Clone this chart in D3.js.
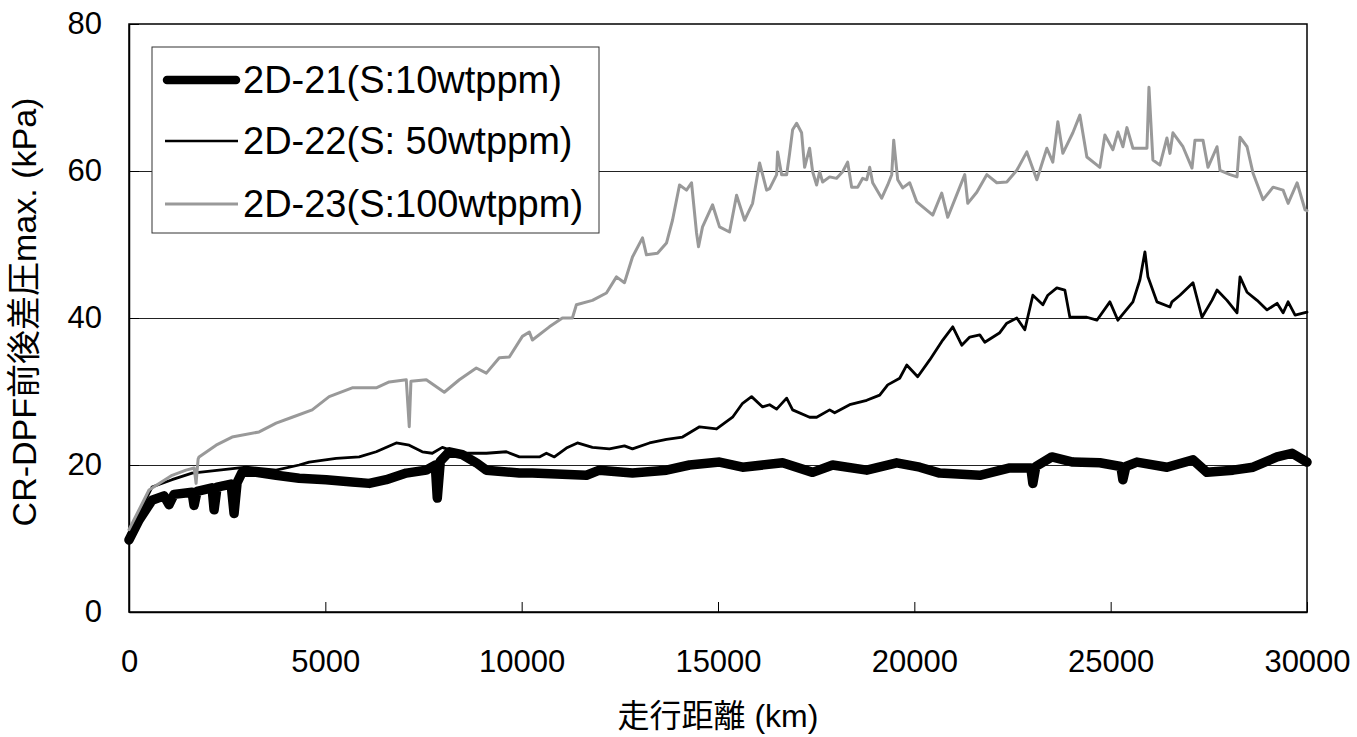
<!DOCTYPE html>
<html>
<head>
<meta charset="utf-8">
<script src="https://cdn.jsdelivr.net/npm/d3@7/dist/d3.min.js"></script>
<style>
  html, body { margin: 0; padding: 0; background: #fff; }
  svg { display: block; }
  text { font-family: "Liberation Sans", Arial, "Noto Sans CJK JP", sans-serif; fill: #000; }
</style>
</head>
<body>
<svg id="chart" width="1357" height="737"></svg>
<script>
// Running distance (km) and max. pressure drop across the CR-DPF (kPa)

const seriesNames = ["2D-21(S:10wtppm)", "2D-22(S: 50wtppm)", "2D-23(S:100wtppm)"];

// 2D-21 (S:10wtppm)
const dist21 = [0, 255, 586, 892, 1020, 1147, 1606, 1657, 1733, 2116, 2167, 2243, 2600, 2676, 2753, 2880,
  3237, 3747, 4333, 5021, 5684, 6118, 6551, 7061, 7571, 7800, 7851, 7928, 8157, 8488, 8845, 9100, 9941,
  10273, 11649, 11980, 12822, 13688, 14274, 15039, 15626, 16646, 17410, 17920, 18787, 19551, 20137, 20647,
  21667, 22431, 22967, 23018, 23094, 23502, 24037, 24725, 25260, 25311, 25388, 25669, 26433, 27096, 27452,
  28116, 28626, 29238, 29620, 30000];
const val21 = [9.8, 12.5, 15.2, 15.8, 14.6, 16.0, 16.3, 14.5, 16.4, 16.9, 13.9, 17.0, 17.4, 13.4, 17.6, 19.0,
  19.0, 18.6, 18.2, 18.0, 17.7, 17.5, 18.0, 18.9, 19.3, 20.0, 15.5, 20.5, 21.8, 21.4, 20.3, 19.3, 18.9,
  18.9, 18.6, 19.3, 18.9, 19.3, 20.0, 20.4, 19.7, 20.3, 19.0, 20.0, 19.3, 20.3, 19.7, 18.9,
  18.6, 19.6, 19.6, 17.5, 19.8, 21.1, 20.4, 20.3, 19.8, 18.0, 19.8, 20.4, 19.7, 20.7, 19.0,
  19.3, 19.7, 21.1, 21.6, 20.4];

// 2D-22 (S: 50wtppm)
const dist22 = [0, 586, 1096, 1606, 2294, 2982, 3747, 4333, 4588, 5276, 5863, 6296, 6806, 7137, 7469, 7724,
  7979, 8412, 9100, 9610, 9941, 10451, 10630, 10833, 11139, 11420, 11802, 12235, 12618, 12822, 13255, 13688,
  14096, 14530, 14963, 15371, 15626, 15855, 16136, 16314, 16493, 16748, 16900, 17333, 17512, 17843, 17971,
  18353, 18787, 19118, 19322, 19627, 19806, 20086, 20392, 20724, 20979, 21208, 21412, 21667, 21794, 22176,
  22355, 22610, 22814, 23018, 23273, 23400, 23629, 23833, 23961, 24394, 24649, 24980, 25184, 25567, 25745,
  25873, 25949, 26178, 26510, 26561, 26765, 27096, 27325, 27580, 27708, 27963, 28218, 28294, 28473, 28728,
  28983, 29238, 29391, 29519, 29697, 30000];
const val22 = [10.7, 17.0, 18.0, 18.9, 19.3, 19.7, 19.3, 20.0, 20.4, 20.9, 21.1, 21.8, 23.0, 22.7, 21.8, 21.6,
  22.4, 21.6, 21.6, 21.8, 21.1, 21.1, 21.6, 21.1, 22.3, 23.0, 22.4, 22.2, 22.6, 22.2, 23.0, 23.5,
  23.8, 25.2, 24.9, 26.5, 28.4, 29.3, 27.9, 28.2, 27.6, 29.1, 27.5, 26.5, 26.5, 27.5, 27.1,
  28.2, 28.8, 29.5, 30.9, 31.8, 33.6, 32.0, 34.3, 37.0, 38.8, 36.3, 37.4, 37.7, 36.7, 38.0,
  39.3, 40.0, 38.4, 43.1, 41.8, 43.1, 44.1, 43.8, 40.1, 40.1, 39.7, 42.2, 39.7, 42.2, 45.2,
  49.0, 45.6, 42.2, 41.5, 42.2, 43.1, 44.8, 40.1, 42.4, 43.8, 42.4, 40.7, 45.6, 43.5, 42.4,
  41.1, 42.0, 40.7, 42.2, 40.4, 40.8];

// 2D-23 (S:100wtppm)
const dist23 = [0, 510, 1096, 1453, 1660, 1708, 1760, 1784, 2218, 2625, 3314, 3747, 4155, 4665, 5098, 5684,
  6296, 6627, 7061, 7137, 7180, 7571, 8029, 8412, 8845, 9100, 9431, 9686, 10018, 10196, 10273, 10706,
  11037, 11292, 11394, 11802, 12159, 12414, 12618, 12822, 13077, 13178, 13459, 13688, 13841, 14020, 14198,
  14326, 14453, 14504, 14606, 14861, 15039, 15294, 15473, 15677, 15881, 16059, 16238, 16314, 16493, 16518,
  16620, 16748, 16824, 16900, 17002, 17129, 17206, 17333, 17410, 17512, 17588, 17665, 17843, 18021, 18174,
  18302, 18404, 18557, 18685, 18787, 18863, 18939, 19169, 19322, 19424, 19475, 19577, 19704, 19882, 20061,
  20469, 20698, 20851, 21157, 21284, 21361, 21590, 21845, 22100, 22355, 22610, 22865, 23120, 23375, 23527,
  23655, 23782, 24037, 24216, 24394, 24725, 24853, 25057, 25184, 25312, 25414, 25567, 25924, 25975, 26076,
  26255, 26433, 26510, 26586, 26841, 27071, 27147, 27351, 27478, 27708, 27784, 28039, 28218, 28294, 28473,
  28626, 28881, 29136, 29391, 29519, 29748, 29952, 30000];
const val23 = [11.2, 16.6, 18.6, 19.3, 19.6, 17.5, 20.8, 21.1, 22.7, 23.8, 24.5, 25.7, 26.5, 27.5, 29.3, 30.5,
  30.5, 31.3, 31.6, 25.2, 31.4, 31.6, 29.9, 31.6, 33.2, 32.5, 34.6, 34.7, 37.5, 38.1, 37.0, 38.8,
  40.0, 40.0, 41.8, 42.4, 43.4, 45.6, 44.8, 48.3, 50.9, 48.6, 48.8, 50.2, 53.3, 58.1, 57.4,
  58.4, 51.6, 49.7, 52.4, 55.4, 52.4, 51.7, 56.7, 53.3, 55.6, 61.1, 57.4, 57.6, 59.5, 62.6,
  59.5, 59.5, 62.4, 65.6, 66.5, 65.2, 60.5, 63.1, 59.9, 58.1, 59.9, 58.5, 59.2, 59.0, 59.9,
  61.2, 57.8, 57.8, 59.0, 58.8, 60.5, 58.4, 56.3, 58.1, 59.5, 64.2, 58.8, 57.7, 58.4, 55.8,
  54.0, 57.0, 53.7, 57.8, 59.5, 55.6, 57.1, 59.5, 58.4, 58.5, 60.1, 62.6, 58.8, 63.1, 61.2,
  66.7, 62.4, 65.2, 67.6, 61.9, 60.5, 64.9, 62.9, 65.3, 63.3, 65.9, 63.1, 63.1, 71.4, 61.5,
  60.8, 64.5, 62.4, 65.2, 63.3, 60.4, 64.2, 64.2, 60.5, 63.3, 60.1, 59.5, 59.2, 64.6, 63.3,
  59.7, 56.1, 57.8, 57.4, 55.6, 58.4, 54.7, 54.6];

const xTicks = [0, 5000, 10000, 15000, 20000, 25000, 30000];
const yTicks = [0, 20, 40, 60, 80];

const xTitle = "走行距離 (km)";
const yTitle = "CR-DPF前後差圧max. (kPa)";

// ---- layout ----
const plot = { left: 129, right: 1307, top: 24, bottom: 612 };
const svg = d3.select("#chart");

const x = d3.scaleLinear().domain([0, 30000]).range([plot.left, plot.right]);
const y = d3.scaleLinear().domain([0, 80]).range([plot.bottom, plot.top]);

// horizontal gridlines
svg.append("g")
  .selectAll("line")
  .data(yTicks.filter(v => v > 0 && v < 80))
  .join("line")
  .attr("x1", plot.left).attr("x2", plot.right)
  .attr("y1", d => Math.round(y(d)) + 0.5).attr("y2", d => Math.round(y(d)) + 0.5)
  .attr("stroke", "#222").attr("stroke-width", 1);

// plot frame
svg.append("rect")
  .attr("x", plot.left).attr("y", plot.top)
  .attr("width", plot.right - plot.left).attr("height", plot.bottom - plot.top)
  .attr("fill", "none").attr("stroke", "#000").attr("stroke-width", 1.5);

// axes with inward ticks
const xAxis = d3.axisBottom(x).tickValues(xTicks).tickFormat(d3.format("d"))
  .tickSizeInner(-10).tickSizeOuter(0).tickPadding(38);
const yAxis = d3.axisLeft(y).tickValues(yTicks).tickFormat(d3.format("d"))
  .tickSizeInner(-10).tickSizeOuter(0).tickPadding(27);

const gx = svg.append("g").attr("transform", `translate(0,${plot.bottom})`).call(xAxis);
const gy = svg.append("g").attr("transform", `translate(${plot.left},0)`).call(yAxis);
[gx, gy].forEach(g => {
  g.select(".domain").attr("stroke", "#000").attr("stroke-width", 1.5);
  g.selectAll(".tick line").attr("stroke", "#000").attr("stroke-width", 1);
  g.selectAll(".tick text").attr("font-size", 31)
    .attr("font-family", "'Liberation Sans', Arial, sans-serif").attr("fill", "#000");
});

// axis titles
svg.append("text")
  .attr("x", (plot.left + plot.right) / 2).attr("y", 727)
  .attr("text-anchor", "middle").attr("font-size", 32)
  .text(xTitle);

svg.append("text")
  .attr("transform", "translate(36,312) rotate(-90)")
  .attr("text-anchor", "middle").attr("font-size", 34)
  .text(yTitle);

// series
const series = [
  { name: seriesNames[0], dist: dist21, val: val21, color: "#000", width: 9.5 },
  { name: seriesNames[1], dist: dist22, val: val22, color: "#000", width: 2.8 },
  { name: seriesNames[2], dist: dist23, val: val23, color: "#999", width: 3 }
];

const line = d3.line().x(d => x(d[0])).y(d => y(d[1]));

svg.append("g")
  .selectAll("path")
  .data(series)
  .join("path")
  .attr("d", s => line(s.dist.map((d, i) => [d, s.val[i]])))
  .attr("fill", "none")
  .attr("stroke", s => s.color)
  .attr("stroke-width", s => s.width)
  .attr("stroke-linejoin", "round")
  .attr("stroke-linecap", "round");

// legend
const legend = svg.append("g");
legend.append("rect")
  .attr("x", 152).attr("y", 47).attr("width", 447).attr("height", 186)
  .attr("fill", "#fff").attr("stroke", "#333").attr("stroke-width", 1);

const rowY = [80, 141, 204];
const legendWidth = [8.5, 2.6, 3];
const rows = legend.selectAll("g.row").data(series).join("g").attr("class", "row")
  .attr("transform", (d, i) => `translate(0,${rowY[i]})`);
rows.append("line")
  .attr("x1", (d, i) => i === 0 ? 167 : 165).attr("x2", (d, i) => i === 0 ? 236 : 238)
  .attr("y1", 0).attr("y2", 0)
  .attr("stroke", d => d.color).attr("stroke-width", (d, i) => legendWidth[i])
  .attr("stroke-linecap", (d, i) => i === 0 ? "round" : "butt");
rows.append("text")
  .attr("x", 243).attr("y", 13)
  .attr("font-size", 38)
  .text(d => d.name);
</script>
</body>
</html>
